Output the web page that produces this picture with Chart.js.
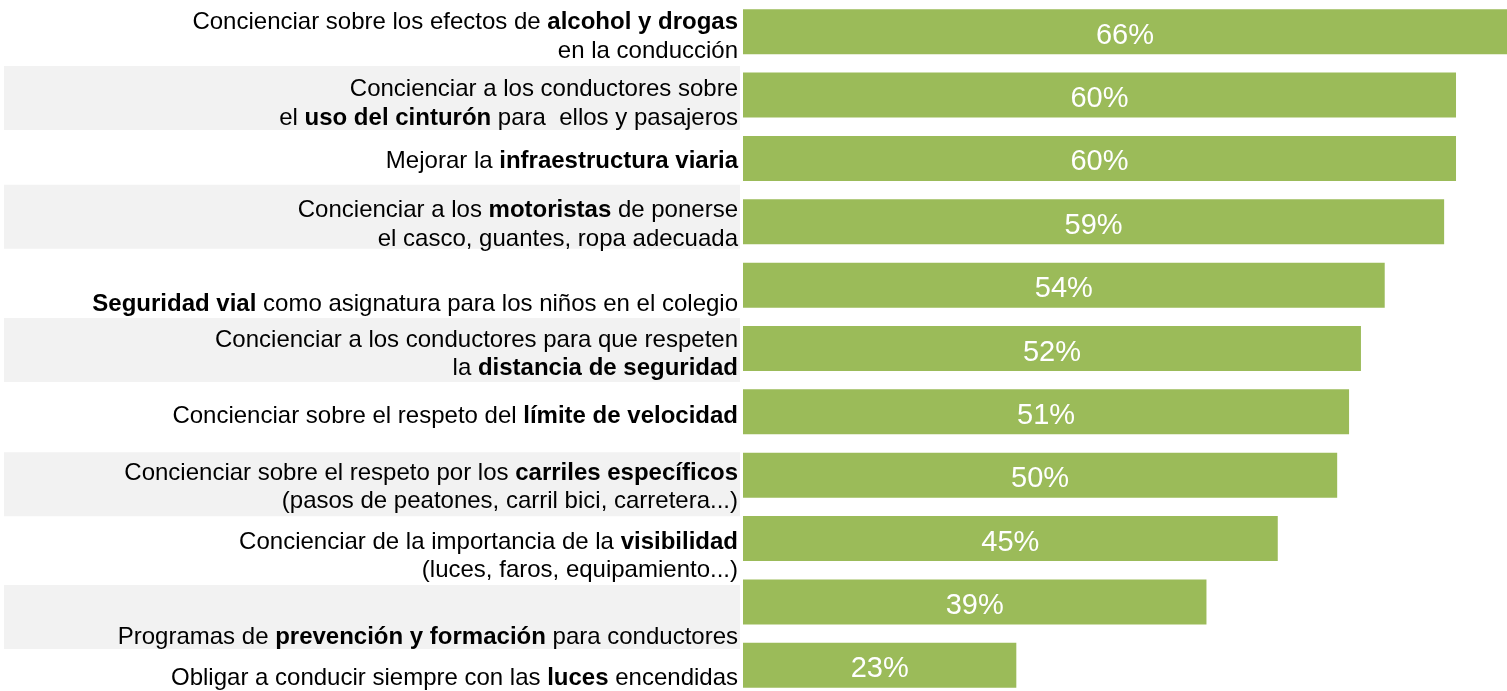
<!DOCTYPE html>
<html lang="es">
<head>
<meta charset="UTF-8">
<title>Seguridad vial</title>
<script src="https://cdn.jsdelivr.net/npm/chart.js"></script>
<style>
  html, body { margin: 0; padding: 0; background: #fff; overflow: hidden; }
  #wrap { width: 1507px; height: 697px; }
</style>
</head>
<body>
<div id="wrap"><canvas id="grafico"></canvas></div>
<script>
// categorias: cada linea, con ** para las partes en negrita
const categorias = [
  ['Concienciar sobre los efectos de **alcohol y drogas**', 'en la conducción'],
  ['Concienciar a los conductores sobre', 'el **uso del cinturón** para  ellos y pasajeros'],
  ['Mejorar la **infraestructura viaria**'],
  ['Concienciar a los **motoristas** de ponerse', 'el casco, guantes, ropa adecuada'],
  ['**Seguridad vial** como asignatura para los niños en el colegio'],
  ['Concienciar a los conductores para que respeten', 'la **distancia de seguridad**'],
  ['Concienciar sobre el respeto del **límite de velocidad**'],
  ['Concienciar sobre el respeto por los **carriles específicos**', '(pasos de peatones, carril bici, carretera...)'],
  ['Concienciar de la importancia de la **visibilidad**', '(luces, faros, equipamiento...)'],
  ['Programas de **prevención y formación** para conductores'],
  ['Obligar a conducir siempre con las **luces** encendidas']
];
const valores = [66, 60, 60, 59, 54, 52, 51, 50, 45, 39, 23];

// ajustes de maquetacion (px respecto al centro de cada fila)
const desplazTexto = [5, 9, 3, 3, 19, 6, 5, 12, 18, 35, 13];
const desplazBanda = [0, 3, 0, -5, 0, 1.5, 0, 9, 0, 15, 0];

const verde = '#9BBB59';
const gris = '#F2F2F2';
const fuente = '"Liberation Sans", Arial, sans-serif';

function partes(linea) {
  return linea.split('**').map((t, i) => ({ t: t, b: i % 2 === 1 }));
}

const etiquetasPlugin = {
  id: 'etiquetas',
  beforeDatasetsDraw(chart) {
    const ctx = chart.ctx;
    const y = chart.scales.y;
    ctx.save();
    ctx.fillStyle = gris;
    categorias.forEach((c, i) => {
      if (i % 2 === 1) {
        const cy = y.getPixelForValue(i) + desplazBanda[i];
        ctx.fillRect(4, cy - 32, 736, 64);
      }
    });
    ctx.restore();
  },
  afterDatasetsDraw(chart) {
    const ctx = chart.ctx;
    const y = chart.scales.y;
    const area = chart.chartArea;
    const meta = chart.getDatasetMeta(0);
    ctx.save();
    ctx.textBaseline = 'middle';
    // textos de la izquierda
    categorias.forEach((lineas, i) => {
      const cy = y.getPixelForValue(i) + desplazTexto[i];
      const alto = 28.5;
      lineas.forEach((linea, j) => {
        const ly = cy + (j - (lineas.length - 1) / 2) * alto;
        const ps = partes(linea);
        let ancho = 0;
        ps.forEach(p => {
          ctx.font = (p.b ? 'bold ' : '') + '24px ' + fuente;
          p.w = ctx.measureText(p.t).width;
          ancho += p.w;
        });
        let x = 738 - ancho;
        ctx.fillStyle = '#000';
        ctx.textAlign = 'left';
        ps.forEach(p => {
          ctx.font = (p.b ? 'bold ' : '') + '24px ' + fuente;
          ctx.fillText(p.t, x, ly);
          x += p.w;
        });
      });
    });
    // porcentajes dentro de las barras
    ctx.font = '29px ' + fuente;
    ctx.fillStyle = '#fff';
    ctx.textAlign = 'center';
    meta.data.forEach((bar, i) => {
      const fin = Math.min(bar.x, area.right);
      const cx = (bar.base + fin) / 2;
      ctx.fillText(valores[i] + '%', cx, bar.y + 4);
    });
    ctx.restore();
  }
};

new Chart(document.getElementById('grafico'), {
  type: 'bar',
  data: {
    labels: categorias.map(c => c.join(' ').replace(/\*\*/g, '')),
    datasets: [{
      data: valores,
      backgroundColor: verde,
      borderWidth: 0,
      barPercentage: 0.71,
      categoryPercentage: 1
    }]
  },
  options: {
    indexAxis: 'y',
    responsive: true,
    maintainAspectRatio: false,
    animation: false,
    layout: { padding: { left: 743, right: 0, top: 0, bottom: 0 } },
    plugins: {
      legend: { display: false },
      tooltip: { enabled: false }
    },
    scales: {
      x: { display: false, min: 0, max: 64.29 },
      y: { display: false }
    }
  },
  plugins: [etiquetasPlugin]
});
</script>
</body>
</html>
